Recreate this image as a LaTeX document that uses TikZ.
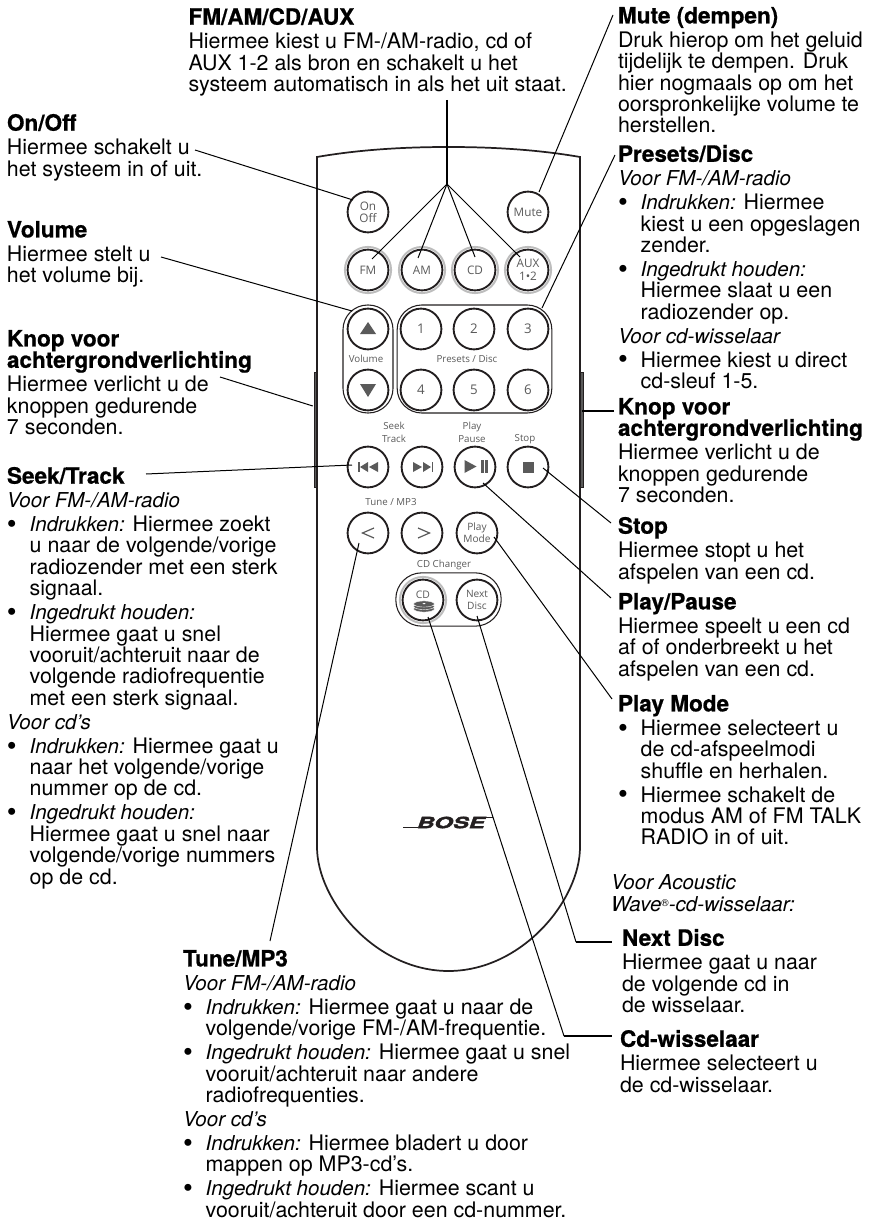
\documentclass[tikz,border=0pt]{standalone}
\usepackage{fontspec}
\usepackage{graphicx}
\usetikzlibrary{calc}
\setmainfont{TeX Gyre Heros}
\newfontfamily\headface[FakeBold=0.7]{TeX Gyre Heros Bold}
\newfontfamily\labface{Open Sans}
\newfontfamily\boseface[FakeStretch=1.55,FakeSlant=0.35,FakeBold=2.5]{TeX Gyre Heros Bold}
\newcommand{\hd}[1]{{\headface\fontsize{16.9}{16.05}\selectfont #1}}
\newcommand{\ib}{\makebox[17pt][l]{\fontsize{21}{16}\selectfont\raisebox{-1.4pt}{\textbullet}}}
\newcommand{\ii}{\hspace*{17pt}}
\newcommand{\itx}[1]{{\fontsize{15.4}{16.05}\selectfont\itshape #1}}
\def\eg{1.9pt}
\lineskiplimit=-100pt
\newcommand{\block}[4]{\node[txt] (#1) at (#2,{#3-15}) {\strut #4};}
\definecolor{lineink}{HTML}{231F20}
\definecolor{labink}{HTML}{5A5A5A}
\definecolor{ringink}{HTML}{BDBDBD}
\tikzset{
 txt/.style={anchor=north west,inner sep=0pt,outer sep=0pt,align=left,text=black,font=\fontsize{16.05}{16.05}\selectfont},
 btn/.style={circle,draw=lineink,line width=1.4pt,minimum size=30.6pt,inner sep=0pt,fill=white,text=labink,align=center,font=\labface\fontsize{8.8}{9}\selectfont},
 tightbtn/.style={btn,font=\labface\fontsize{7.6}{9}\selectfont},
 numbtn/.style={btn,font=\labface\fontsize{10}{10}\selectfont},
 pill/.style={rectangle,draw=lineink,line width=0.8pt,inner sep=0pt,fill=white},
 ringline/.style={draw=ringink,line width=1.5pt},
 small/.style={inner sep=0pt,text=labink,align=center,font=\labface\fontsize{7.3}{9.6}\selectfont},
 leader/.style={draw=black,line width=0.75pt},
 heavy/.style={draw=black,line width=1.5pt},
 icon/.style={fill=labink,draw=none},
 stroke/.style={draw=labink,line width=0.9pt},
 shell/.style={draw=lineink,line width=1.3pt},
 sidebtn/.style={rectangle,draw=lineink,line width=0.3pt,fill=labink,inner sep=0pt,minimum width=2.4pt,minimum height=86pt},
}
\begin{document}
\begin{tikzpicture}[x=0.75pt,y=-0.75pt]
\useasboundingbox (0,0) rectangle (870,1220);
% shell
\node[sidebtn] (sideL) at (315.3,429.5) {};
\node[sidebtn] (sideR) at (581.7,429.5) {};
\draw[shell] (317,157) .. controls (360,149.5) and (405,147) .. (448.5,147)
  .. controls (492,147) and (537,149.5) .. (580,157) -- (580,847)
  .. controls (580,900) and (522,971) .. (448.5,971)
  .. controls (375,971) and (317,900) .. (317,847) -- cycle;
% pills
\node[pill,minimum width=37.5pt,minimum height=81pt,rounded corners=18.5pt] (volPill) at (368,359) {};
\node[pill,minimum width=116pt,minimum height=81pt,rounded corners=18.5pt] (presetPill) at (474.5,359) {};
\node[pill,minimum width=79pt,minimum height=40pt,rounded corners=19.5pt] (changerPill) at (448.5,599.5) {};
% buttons
\node[btn,align=center] (on) at (368,212) {On\\Off};
\node[btn] (mute) at (528,212) {Mute};
\foreach \n/\x in {fmring/368,amring/422,cdring/475,auxring/528}
  \draw[ringline] (\x,270) circle[radius=17.3pt];
\draw[ringline] (423,600) circle[radius=17.3pt];
\node[btn] (fm) at (368,270) {FM};
\node[btn] (am) at (422,270) {AM};
\node[btn] (cd) at (475,270) {CD};
\node[btn,font=\labface\fontsize{8.8}{9.4}\selectfont] (aux) at (528,270) {AUX\\1•2};
\node[btn] (volUp) at (368,329) {};
\node[btn] (volDown) at (368,390) {};
\node[numbtn] (p1) at (421,329) {1};
\node[numbtn] (p2) at (474,329) {2};
\node[numbtn] (p3) at (528,329) {3};
\node[numbtn] (p4) at (421,390) {4};
\node[numbtn] (p5) at (474,390) {5};
\node[numbtn] (p6) at (528,390) {6};
\node[btn] (prev) at (368,467) {};
\node[btn] (next) at (422,467) {};
\node[btn] (play) at (475,467) {};
\node[btn] (stop) at (528,467) {};
\node[btn] (tuneL) at (368,533) {};
\node[btn] (tuneR) at (422,533) {};
\node[tightbtn] (pmode) at (477,533) {Play\\Mode};
\node[btn,text depth=0pt] (cdc) at (423,600) {};
\node[tightbtn] (nextdisc) at (477,600) {Next\\Disc};
% small labels
\node[small] (lVol) at (366,359) {Volume};
\node[small] (lPre) at (467,359) {Presets / Disc};
\node[small] (lSeek) at (394,432.5) {Seek\\Track};
\node[small] (lPlay) at (472,432.5) {Play\\Pause};
\node[small] (lStop) at (525,439) {Stop};
\node[small] (lTune) at (391,502) {Tune / MP3};
\node[small] (lChg) at (444,565) {CD Changer};
\node[small,font=\labface\fontsize{7.8}{8}\selectfont] (lCdc) at (423,595) {CD};
% icons
\fill[icon] (368,322) -- (376,334) -- (360,334) -- cycle;
\fill[icon] (368,397) -- (376,384) -- (360,384) -- cycle;
\fill[icon] (358,462) rectangle (359.5,472);
\fill[icon] (360,467) -- (368,462) -- (368,472) -- cycle;
\fill[icon] (369,467) -- (378,462) -- (378,472) -- cycle;
\fill[icon] (431.5,462) rectangle (433,472);
\fill[icon] (431,467) -- (423,462) -- (423,472) -- cycle;
\fill[icon] (422,467) -- (413,462) -- (413,472) -- cycle;
\fill[icon] (464.5,460) -- (476.5,466.5) -- (464.5,473) -- cycle;
\fill[icon] (481,460) rectangle (483.7,473);
\fill[icon] (485.3,460) rectangle (488,473);
\fill[icon] (523,461.5) rectangle (534,472.5);
\draw[stroke] (374,528) -- (362.5,533) -- (374,538);
\draw[stroke] (418,528) -- (429.5,533) -- (418,538);
\foreach \yy in {609,606.5,604}
  \draw[fill=labink,draw=white,line width=0.3pt] (424,\yy) ellipse [x radius=7.8pt,y radius=2.3pt];
\fill[white] (424,603.6) ellipse [x radius=1.2pt,y radius=0.5pt];
% logo
\node[inner sep=0pt,text=lineink,font=\boseface\fontsize{11.6}{12}\selectfont] (bose) at (450,822.5) {BOSE};
\coordinate (boseA) at (403,827.5);
\coordinate (boseB) at (418,827.5);
\coordinate (boseC) at (482,817.5);
\coordinate (boseD) at (493,817.5);
\draw[draw=lineink,line width=0.7pt] (boseA) -- (boseB);
\draw[draw=lineink,line width=0.7pt] (boseC) -- (boseD);
% texts
\block{tFm}{188.5}{23}{\hd{FM/AM/CD/AUX}\\[\eg]
 Hiermee kiest u FM-/AM-radio, cd of\\
 AUX 1-2 als bron en schakelt u het\\
 systeem automatisch in als het uit staat.}
\block{tOn}{7}{129}{\hd{On/Off}\\[\eg]
 Hiermee schakelt u\\
 het systeem in of uit.}
\block{tVol}{7}{236}{\hd{Volume}\\[\eg]
 Hiermee stelt u\\
 het volume bij.}
\block{tKnopL}{7}{345}{\hd{Knop voor}\\
 \hd{achtergrondverlichting}\\[\eg]
 Hiermee verlicht u de\\
 knoppen gedurende\\
 7 seconden.}
\block{tSeek}{7}{482}{\hd{Seek/Track}\\[\eg]
 \itx{Voor FM-/AM-radio}\\[\eg]
 \ib\itx{Indrukken:} Hiermee zoekt\\
 \ii u naar de volgende/vorige\\
 \ii radiozender met een sterk\\
 \ii signaal.\\[\eg]
 \ib\itx{Ingedrukt houden:}\\
 \ii Hiermee gaat u snel\\
 \ii vooruit/achteruit naar de\\
 \ii volgende radiofrequentie\\
 \ii met een sterk signaal.\\[\eg]
 \itx{Voor cd’s}\\[\eg]
 \ib\itx{Indrukken:} Hiermee gaat u\\
 \ii naar het volgende/vorige\\
 \ii nummer op de cd.\\[\eg]
 \ib\itx{Ingedrukt houden:}\\
 \ii Hiermee gaat u snel naar\\
 \ii volgende/vorige nummers\\
 \ii op de cd.}
\block{tMute}{618}{22}{\hd{Mute (dempen)}\\[\eg]
 Druk hierop om het geluid\\
 tijdelijk te dempen. Druk\\
 hier nogmaals op om het\\
 oorspronkelijke volume te\\
 herstellen.}
\block{tPre}{618}{160}{\hd{Presets/Disc}\\[\eg]
 \itx{Voor FM-/AM-radio}\\[\eg]
 \ib\itx{Indrukken:} Hiermee\\
 \ii kiest u een opgeslagen\\
 \ii zender.\\[\eg]
 \ib\itx{Ingedrukt houden:}\\
 \ii Hiermee slaat u een\\
 \ii radiozender op.\\[\eg]
 \itx{Voor cd-wisselaar}\\[\eg]
 \ib Hiermee kiest u direct\\
 \ii cd-sleuf 1-5.}
\block{tKnopR}{618}{413}{\hd{Knop voor}\\
 \hd{achtergrondverlichting}\\[\eg]
 Hiermee verlicht u de\\
 knoppen gedurende\\
 7 seconden.}
\block{tStop}{618}{532}{\hd{Stop}\\[\eg]
 Hiermee stopt u het\\
 afspelen van een cd.}
\block{tPlay}{618}{608}{\hd{Play/Pause}\\[\eg]
 Hiermee speelt u een cd\\
 af of onderbreekt u het\\
 afspelen van een cd.}
\block{tMode}{618}{710}{\hd{Play Mode}\\[\eg]
 \ib Hiermee selecteert u\\
 \ii de cd-afspeelmodi\\
 \ii shuffle en herhalen.\\[\eg]
 \ib Hiermee schakelt de\\
 \ii modus AM of FM TALK\\
 \ii RADIO in of uit.}
\block{tWave}{611}{890}{\itx{Voor Acoustic}\\
 \itx{Wave\raisebox{3.5pt}{\fontsize{7.5}{8}\selectfont\upshape ®}-cd-wisselaar:}}
\block{tNext}{622}{944}{\hd{Next Disc}\\[\eg]
 Hiermee gaat u naar\\
 de volgende cd in\\
 de wisselaar.}
\block{tWis}{620}{1045}{\hd{Cd-wisselaar}\\[\eg]
 Hiermee selecteert u\\
 de cd-wisselaar.}
\block{tTune}{183}{965}{\hd{Tune/MP3}\\[\eg]
 \itx{Voor FM-/AM-radio}\\[\eg]
 \ib\itx{Indrukken:} Hiermee gaat u naar de\\
 \ii volgende/vorige FM-/AM-frequentie.\\[\eg]
 \ib\itx{Ingedrukt houden:} Hiermee gaat u snel\\
 \ii vooruit/achteruit naar andere\\
 \ii radiofrequenties.\\[\eg]
 \itx{Voor cd’s}\\[\eg]
 \ib\itx{Indrukken:} Hiermee bladert u door\\
 \ii mappen op MP3-cd’s.\\[\eg]
 \ib\itx{Ingedrukt houden:} Hiermee scant u\\
 \ii vooruit/achteruit door een cd-nummer.}
% leader ends
\coordinate (eOn) at (195,150);
\coordinate (eVol) at (161,257);
\coordinate (eKnopL) at (220,377);
\coordinate (eSeek) at (146,474);
\coordinate (eJoin) at (447,184);
\coordinate (eTop) at (447,100);
\coordinate (eMute) at (613,15);
\coordinate (ePre) at (615,155);
\coordinate (eKnopR) at (614,411);
\coordinate (eStop) at (611,523);
\coordinate (ePlay) at (611,598);
\coordinate (eMode) at (612,699);
\coordinate (eTune) at (270,941);
\coordinate (eNextC) at (576,942);
\coordinate (eNext) at (612,942);
\coordinate (eWisC) at (564,1036);
\coordinate (eWis) at (612,1036);
% leaders
\draw[leader] (eOn) -- ($(on)+(-15,-12)$);
\draw[leader] (eVol) -- ($(volUp)+(-16,-18)$);
\draw[leader] (eKnopL) -- ($(sideL)+(-2.5,-23.5)$);
\draw[leader] (eSeek) -- ($(prev)+(-16,-2)$);
\draw[heavy] (eTop) -- (eJoin);
\draw[leader] (eJoin) -- ($(fm)+(4,-11)$);
\draw[leader] (eJoin) -- ($(am)+(-4,-12)$);
\draw[leader] (eJoin) -- ($(cd)+(0,-13)$);
\draw[leader] (eJoin) -- ($(aux)+(-8,-13)$);
\draw[leader] (eMute) -- ($(mute)+(11,-20)$);
\draw[leader] (ePre) -- ($(p3)+(14,-21)$);
\draw[heavy] (eKnopR) -- ($(sideR)+(0.5,-18.5)$);
\draw[leader] (eStop) -- ($(stop)+(15,1)$);
\draw[leader] (ePlay) -- ($(play)+(8,16)$);
\draw[leader] (eMode) -- ($(pmode)+(17,4)$);
\draw[leader] (eTune) -- ($(tuneL)+(-9,10)$);
\draw[leader] (eNextC) -- ($(nextdisc)+(0,16)$);
\draw[heavy] (eNextC) -- (eNext);
\draw[leader] (eWisC) -- ($(cdc)+(5,17)$);
\draw[heavy] (eWisC) -- (eWis);
\end{tikzpicture}
\end{document}
